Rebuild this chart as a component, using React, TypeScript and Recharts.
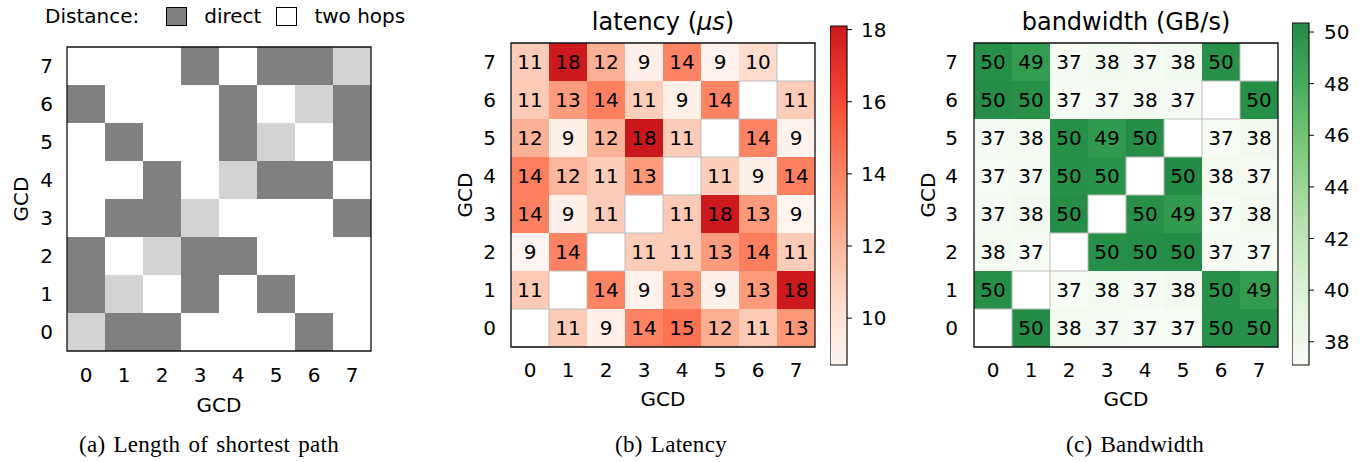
import type { ReactNode } from 'react'
import {
  Bar,
  BarChart,
  Legend,
  ReferenceArea,
  Scatter,
  ScatterChart,
  XAxis,
  YAxis,
} from 'recharts'

const GCDS = [0, 1, 2, 3, 4, 5, 6, 7]

// every matrix is written as it is drawn: top row = GCD 7 ... bottom row = GCD 0, columns GCD 0..7
// 0 = same GCD, 1 = direct link, 2 = two hops
const HOP_ROWS = [
  [2, 2, 2, 1, 2, 1, 1, 0],
  [1, 2, 2, 2, 1, 2, 0, 1],
  [2, 1, 2, 2, 1, 0, 2, 1],
  [2, 2, 1, 2, 0, 1, 1, 2],
  [2, 1, 1, 0, 2, 2, 2, 1],
  [1, 2, 0, 1, 1, 2, 2, 2],
  [1, 0, 2, 1, 2, 1, 2, 2],
  [0, 1, 1, 2, 2, 2, 1, 2],
]

const LATENCY_ROWS = [
  [11.1, 18.0, 12.2, 9.0, 14.0, 8.9, 10.4, null],
  [11.2, 13.0, 14.1, 11.0, 9.1, 14.0, null, 11.1],
  [12.2, 9.0, 12.1, 18.1, 11.1, null, 14.0, 8.9],
  [14.2, 12.0, 11.1, 13.1, null, 11.0, 9.0, 14.1],
  [14.1, 9.0, 11.1, null, 11.2, 18.0, 13.1, 8.8],
  [8.7, 14.0, null, 11.1, 11.1, 13.0, 14.2, 11.1],
  [11.2, null, 14.0, 8.9, 13.2, 9.0, 13.1, 18.0],
  [null, 11.1, 9.0, 14.0, 14.6, 12.3, 11.2, 13.2],
]

const BANDWIDTH_ROWS = [
  [50.1, 49.2, 37.3, 37.7, 37.3, 37.8, 50.0, null],
  [50.2, 50.0, 37.2, 37.4, 37.6, 37.3, null, 50.1],
  [37.3, 37.6, 50.1, 49.3, 50.2, null, 37.2, 37.7],
  [37.2, 37.3, 50.0, 49.8, null, 50.35, 37.6, 37.3],
  [37.3, 37.7, 50.2, null, 50.0, 49.3, 37.2, 37.7],
  [37.6, 37.2, null, 50.1, 50.2, 50.3, 37.3, 37.2],
  [50.1, null, 37.2, 37.6, 37.3, 37.7, 50.0, 49.2],
  [null, 50.3, 37.6, 37.3, 37.1, 37.2, 50.1, 50.0],
]

const LATENCY_TICKS = [10, 12, 14, 16, 18]
const BANDWIDTH_TICKS = [38, 40, 42, 44, 46, 48, 50]

const HOP_LEGEND = [
  { label: 'direct', color: '#808080' },
  { label: 'two hops', color: '#ffffff' },
]
const CAPTIONS = [
  { text: '(a) Length of shortest path', center: 209 },
  { text: '(b) Latency', center: 671 },
  { text: '(c) Bandwidth', center: 1135 },
]

const HOP_COLORS = ['#d3d3d3', '#808080', '#ffffff']
// matplotlib Reds / Greens, cut at 0.75
const REDS = ['#fff5f0', '#fee0d2', '#fcbba1', '#fc9272', '#fb6a4a', '#ef3b2c', '#cb181d']
const GREENS = ['#f7fcf5', '#e5f5e0', '#c7e9c0', '#a1d99b', '#74c476', '#41ab5d', '#238b45']

const FONT = '"DejaVu Sans", sans-serif'
const CELL = 38

type Cell = { x: number; y: number; v: number | null }

function toCells(rows: (number | null)[][]): Cell[] {
  return rows.flatMap((row, r) =>
    row.map((v, c) => ({ x: GCDS[c], y: GCDS[GCDS.length - 1 - r], v })),
  )
}

function rgb(h: string) {
  return [1, 3, 5].map((i) => parseInt(h.slice(i, i + 2), 16))
}

function cmap(stops: string[], t: number) {
  const s = Math.min(1, Math.max(0, t)) * (stops.length - 1)
  const i = Math.min(stops.length - 2, Math.floor(s))
  const f = s - i
  const a = rgb(stops[i])
  const b = rgb(stops[i + 1])
  return `rgb(${a.map((c, k) => Math.round(c + (b[k] - c) * f)).join(',')})`
}

function extent(rows: (number | null)[][]) {
  const vals = rows.flat().filter((v): v is number => v != null)
  return [Math.min(...vals), Math.max(...vals)]
}

type Frame = {
  left: number
  top: number
  bottom: number
  right: number
  yAxisWidth: number
  xTickGap: number
  yTickGap: number
  xLabelDrop: number
}

function HopLegend() {
  return (
    <div style={{ display: 'flex', alignItems: 'center', fontSize: 20, lineHeight: '20px', fontFamily: FONT, whiteSpace: 'nowrap' }}>
      <span>Distance:</span>
      {HOP_LEGEND.map((item) => (
        <span key={item.label} style={{ display: 'flex', alignItems: 'center' }}>
          <span
            style={{
              display: 'inline-block',
              width: 19,
              height: 17,
              marginLeft: item.label === 'direct' ? 27 : 15,
              marginRight: 17,
              background: item.color,
              border: '1px solid #000',
            }}
          />
          <span>{item.label}</span>
        </span>
      ))}
    </div>
  )
}

function Heatmap({
  frame,
  rows,
  fillOf,
  annotate,
  title,
  legend,
}: {
  frame: Frame
  rows: (number | null)[][]
  fillOf: (v: number) => string
  annotate: boolean
  title?: ReactNode
  legend?: boolean
}) {
  const cells = toCells(rows)
  const filled = cells.filter((c) => c.v != null)
  const empty = cells.filter((c) => c.v == null)
  const half = CELL / 2

  const shape = (p: any) => {
    const v = p.payload.v
    if (v == null) {
      return (
        <rect x={p.cx - half} y={p.cy - half} width={CELL} height={CELL} fill="#fff" stroke="#bdbdbd" strokeWidth={1} />
      )
    }
    return (
      <g>
        <rect x={p.cx - half} y={p.cy - half} width={CELL} height={CELL} fill={fillOf(v)} />
        {annotate && (
          <text x={p.cx} y={p.cy} dy="0.36em" textAnchor="middle" fontSize={20} fill="#000">
            {Math.round(v)}
          </text>
        )}
      </g>
    )
  }

  const width = 410
  const height = 430

  return (
    <div style={{ position: 'absolute', left: frame.left, top: 0 }}>
      <ScatterChart
        width={width}
        height={height}
        margin={{ top: frame.top, right: frame.right, bottom: frame.bottom, left: 0 }}
      >
        <XAxis
          type="number"
          dataKey="x"
          domain={[-0.5, 7.5]}
          ticks={GCDS}
          interval={0}
          height={70}
          tickSize={0}
          tickMargin={frame.xTickGap}
          axisLine={false}
          tickLine={false}
          tick={{ fill: '#000', fontSize: 20 }}
          label={(props: any) => {
            const vb = props.viewBox
            return (
              <text x={vb.x + vb.width / 2} y={vb.y + frame.xLabelDrop} textAnchor="middle" fontSize={20} fill="#000">
                GCD
              </text>
            )
          }}
        />
        <YAxis
          type="number"
          dataKey="y"
          domain={[-0.5, 7.5]}
          ticks={GCDS}
          interval={0}
          width={frame.yAxisWidth}
          tickSize={0}
          tickMargin={frame.yTickGap}
          axisLine={false}
          tickLine={false}
          tick={{ fill: '#000', fontSize: 20 }}
          label={(props: any) => {
            const vb = props.viewBox
            return (
              <text
                transform={`translate(${vb.x + vb.width - 39}, ${vb.y + vb.height / 2}) rotate(-90)`}
                textAnchor="middle"
                fontSize={20}
                fill="#000"
              >
                GCD
              </text>
            )
          }}
        />
        <Scatter data={filled} shape={shape} isAnimationActive={false} />
        {empty.length > 0 && <Scatter data={empty} shape={shape} isAnimationActive={false} />}
        <ReferenceArea
          x1={-0.5}
          x2={7.5}
          y1={-0.5}
          y2={7.5}
          fill="none"
          stroke="#111"
          strokeWidth={1.3}
          ifOverflow="visible"
          zIndex={700}
          label={(props: any) => {
            if (!title) return null
            const vb = props.viewBox
            return (
              <text x={vb.x + vb.width / 2} y={vb.y - 13} textAnchor="middle" fontSize={24} fill="#000">
                {title}
              </text>
            )
          }}
        />
        {legend && (
          <Legend
            layout="vertical"
            align="center"
            verticalAlign="middle"
            wrapperStyle={{ top: 6, left: 45, width: 380, height: 22 }}
            content={() => <HopLegend />}
          />
        )}
      </ScatterChart>
    </div>
  )
}

function ColorBar({
  left,
  top,
  rows,
  stops,
  ticks,
  id,
  labelGap,
}: {
  left: number
  top: number
  rows: (number | null)[][]
  stops: string[]
  ticks: number[]
  id: string
  labelGap: number
}) {
  const [lo, hi] = extent(rows)
  const height = 380
  return (
    <div style={{ position: 'absolute', left, top: 0 }}>
      <BarChart
        width={85}
        height={height}
        data={[{ k: 'bar', r: [lo, hi] }]}
        margin={{ top, right: 0, bottom: height - 365, left: 0 }}
        barCategoryGap={0}
      >
        <defs>
          <linearGradient id={id} x1="0" y1="1" x2="0" y2="0">
            {stops.map((c, i) => (
              <stop key={c} offset={i / (stops.length - 1)} stopColor={c} />
            ))}
          </linearGradient>
        </defs>
        <XAxis dataKey="k" hide />
        <YAxis
          orientation="right"
          type="number"
          domain={[lo, hi]}
          ticks={ticks}
          interval={0}
          width={68}
          tickSize={5}
          tickMargin={labelGap}
          axisLine={false}
          tickLine={{ stroke: '#000', strokeWidth: 1 }}
          tick={{ fill: '#000', fontSize: 20 }}
        />
        <Bar dataKey="r" fill={`url(#${id})`} stroke="#111" strokeWidth={1.2} isAnimationActive={false} />
      </BarChart>
    </div>
  )
}

export default function App() {
  const [latLo, latHi] = extent(LATENCY_ROWS)
  const [bwLo, bwHi] = extent(BANDWIDTH_ROWS)
  const reds = (v: number) => cmap(REDS, (v - latLo) / (latHi - latLo))
  const greens = (v: number) => cmap(GREENS, (v - bwLo) / (bwHi - bwLo))

  return (
    <div
      style={{
        position: 'absolute',
        left: 0,
        top: 0,
        width: 1367,
        height: 462,
        background: '#fff',
        fontFamily: FONT,
        overflow: 'hidden',
      }}
    >
      <Heatmap
        frame={{ left: 0, top: 47, bottom: 9, right: 39, yAxisWidth: 67, xTickGap: 17, yTickGap: 14, xLabelDrop: 61 }}
        rows={HOP_ROWS}
        fillOf={(v) => HOP_COLORS[v]}
        annotate={false}
        legend
      />
      <Heatmap
        frame={{ left: 420, top: 43, bottom: 13, right: 15, yAxisWidth: 91, xTickGap: 16, yTickGap: 15, xLabelDrop: 59 }}
        rows={LATENCY_ROWS}
        fillOf={reds}
        annotate
        title={
          <>
            <tspan>latency (</tspan>
            <tspan fontStyle="italic">μs</tspan>
            <tspan>)</tspan>
          </>
        }
      />
      <ColorBar left={830} top={26} rows={LATENCY_ROWS} stops={REDS} ticks={LATENCY_TICKS} id="redBar" labelGap={9} />
      <Heatmap
        frame={{ left: 880, top: 43, bottom: 13, right: 12, yAxisWidth: 94, xTickGap: 16, yTickGap: 16, xLabelDrop: 59 }}
        rows={BANDWIDTH_ROWS}
        fillOf={greens}
        annotate
        title="bandwidth (GB/s)"
      />
      <ColorBar left={1292} top={23} rows={BANDWIDTH_ROWS} stops={GREENS} ticks={BANDWIDTH_TICKS} id="greenBar" labelGap={10} />
      {CAPTIONS.map((c) => (
        <div
          key={c.text}
          style={{
            position: 'absolute',
            left: c.center - 200,
            top: 433,
            width: 400,
            textAlign: 'center',
            fontFamily: '"Liberation Serif", serif',
            fontSize: 23,
            lineHeight: '23px',
            letterSpacing: 0.3,
            wordSpacing: 2,
          }}
        >
          {c.text}
        </div>
      ))}
    </div>
  )
}
